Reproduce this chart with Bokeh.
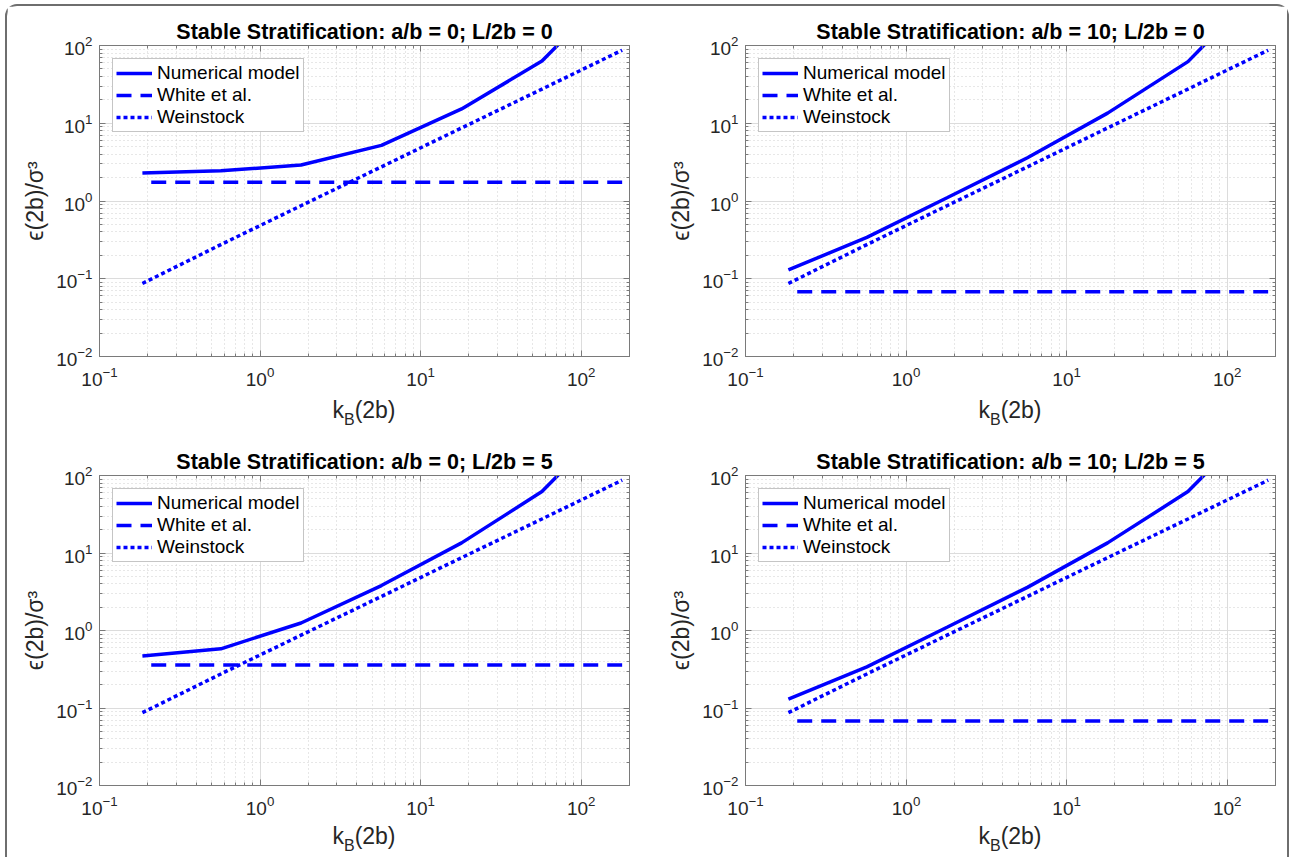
from bokeh.plotting import figure
from bokeh.models import (Range1d, FixedTicker, LogAxis, LogTickFormatter,
                          Legend, LegendItem, CustomJSTickFormatter, Div)
from bokeh.layouts import column, row
from bokeh.embed import file_html
from bokeh.resources import INLINE

# ---------------- data ----------------
k_values = [0.185, 0.57, 1.8, 5.7, 18, 57, 180]
weinstock = [0.087, 0.275, 0.87, 2.75, 8.7, 27.5, 87]
white_x = [0.21, 180]

titles = [
    "Stable Stratification: a/b = 0; L/2b = 0",
    "Stable Stratification: a/b = 10; L/2b = 0",
    "Stable Stratification: a/b = 0; L/2b = 5",
    "Stable Stratification: a/b = 10; L/2b = 5",
]
numerical = [
    [2.3, 2.45, 2.9, 5.2, 15.3, 63, 700],
    [0.13, 0.34, 1.1, 3.6, 13.5, 62, 700],
    [0.47, 0.58, 1.25, 3.8, 13.5, 62, 700],
    [0.13, 0.34, 1.1, 3.6, 13.5, 62, 700],
]
white_level = [1.74, 0.068, 0.36, 0.068]

x_major = [0.1, 1, 10, 100]
y_major = [0.01, 0.1, 1, 10, 100]
legend_labels = ["Numerical model", "White et al.", "Weinstock"]
x_label_html = "k<sub style='font-size:16px;vertical-align:-7px'>B</sub>(2b)"
y_label = "\u03f5(2b)/\u03c3\u00b3"

FONT = "Liberation Sans"
BLUE = "#0000FF"
AXIS_GRAY = "#7a7a7a"
TEXT = "#262626"


def minor_of(majors):
    out = []
    for m in majors:
        for i in range(2, 10):
            out.append(m * i)
    return out


def make_panel(idx, width, height, bl, br, bt, bb):
    xt = FixedTicker(ticks=x_major, minor_ticks=minor_of([0.1, 1, 10, 100]))
    yt = FixedTicker(ticks=y_major, minor_ticks=minor_of([0.01, 0.1, 1, 10]))
    p = figure(width=width, height=height, x_axis_type="log", y_axis_type="log",
               x_range=Range1d(0.1, 200), y_range=Range1d(0.01, 100),
               output_backend="svg", toolbar_location=None,
               min_border_left=bl, min_border_right=br,
               min_border_top=bt, min_border_bottom=bb,
               title=titles[idx])
    p.title.text_font = FONT
    p.title.text_font_size = "21.5px"
    p.title.text_font_style = "bold"
    p.title.text_color = "#000000"
    p.title.align = "center"
    p.title.standoff = 3

    p.outline_line_color = AXIS_GRAY
    p.outline_line_width = 1
    p.background_fill_color = "white"
    p.border_fill_color = "white"

    for ax, tk in ((p.xaxis[0], xt), (p.yaxis[0], yt)):
        ax.ticker = tk
        ax.formatter = LogTickFormatter()
        ax.major_tick_in = 6
        ax.major_tick_out = 0
        ax.minor_tick_in = 3
        ax.minor_tick_out = 0
        ax.axis_line_color = AXIS_GRAY
        ax.major_tick_line_color = AXIS_GRAY
        ax.minor_tick_line_color = AXIS_GRAY
        ax.major_label_text_font = FONT
        ax.major_label_text_font_size = "19px"
        ax.major_label_text_color = TEXT
        ax.axis_label_text_font = FONT
        ax.axis_label_text_font_size = "23px"
        ax.axis_label_text_font_style = "normal"
        ax.axis_label_text_color = TEXT
    p.xaxis.major_label_standoff = 10
    p.yaxis.major_label_standoff = 7
    p.yaxis.axis_label = y_label
    p.yaxis.axis_label_standoff = 5

    # box ticks on top and right (labels empty)
    for loc, tk in (("above", xt), ("right", yt)):
        a = LogAxis(ticker=tk, formatter=CustomJSTickFormatter(code="return ''"),
                    major_label_standoff=0,
                    major_tick_in=6, major_tick_out=0, minor_tick_in=3, minor_tick_out=0,
                    axis_line_color=AXIS_GRAY, major_tick_line_color=AXIS_GRAY,
                    minor_tick_line_color=AXIS_GRAY)
        p.add_layout(a, loc)

    p.xgrid.ticker = xt
    p.ygrid.ticker = yt
    for g in (p.xgrid[0], p.ygrid[0]):
        g.grid_line_color = "#dcdcdc"
        g.grid_line_width = 1
        g.minor_grid_line_color = "#cfcfcf"
        g.minor_grid_line_dash = "1 3"
        g.minor_grid_line_width = 1

    r1 = p.line(k_values, numerical[idx], line_color=BLUE, line_width=3.5)
    r2 = p.line(white_x, [white_level[idx], white_level[idx]], line_color=BLUE,
                line_width=3.5, line_dash="15 9")
    r3 = p.line(k_values, weinstock, line_color=BLUE, line_width=3.5,
                line_dash="4 3")

    leg = Legend(items=[LegendItem(label=legend_labels[0], renderers=[r1]),
                        LegendItem(label=legend_labels[1], renderers=[r2]),
                        LegendItem(label=legend_labels[2], renderers=[r3])],
                 location="top_left")
    leg.label_text_font = FONT
    leg.label_text_font_size = "19px"
    leg.label_text_color = "#000000"
    leg.border_line_color = "#8c8c8c"
    leg.border_line_width = 1
    leg.background_fill_color = "white"
    leg.background_fill_alpha = 1
    leg.glyph_width = 36
    leg.glyph_height = 20
    leg.label_height = 20
    leg.label_standoff = 5
    leg.padding = 3
    leg.spacing = 0
    leg.margin = 13
    p.add_layout(leg, "center")
    return p


def make_xlabel(width, height, frame_left, frame_w, top):
    # centre the label under the plot frame
    shift = int(round(frame_left + frame_w / 2.0 - width / 2.0))
    html = ("<div style='position:relative; display:block; width:%dpx; left:%dpx; "
            "top:%dpx; text-align:center; font-family:\"%s\"; font-size:23px; "
            "line-height:24px; color:%s; white-space:nowrap'>%s</div>"
            % (width, shift, top, FONT, TEXT, x_label_html))
    return Div(text=html, width=width, height=height, margin=0,
               styles={"overflow": "visible"})


p1 = make_panel(0, 646, 386, 92, 24, 39, 36)
p2 = make_panel(1, 634, 386, 92, 12, 39, 36)
p3 = make_panel(2, 646, 387, 92, 24, 45, 30)
p4 = make_panel(3, 634, 387, 92, 12, 45, 30)

d1 = make_xlabel(646, 38, 92, 530, 6)
d2 = make_xlabel(634, 38, 92, 530, 6)
d3 = make_xlabel(646, 40, 92, 530, 7)
d4 = make_xlabel(634, 40, 92, 530, 7)

layout = column(row(p1, p2), row(d1, d2), row(p3, p4), row(d3, d4),
                spacing=0,
                styles={"border": "2px solid #6e6e6e", "border-bottom": "none",
                        "border-radius": "12px 12px 0 0",
                        "margin-left": "5px", "margin-top": "4px"})

open("out.html", "w").write(file_html(layout, INLINE))
